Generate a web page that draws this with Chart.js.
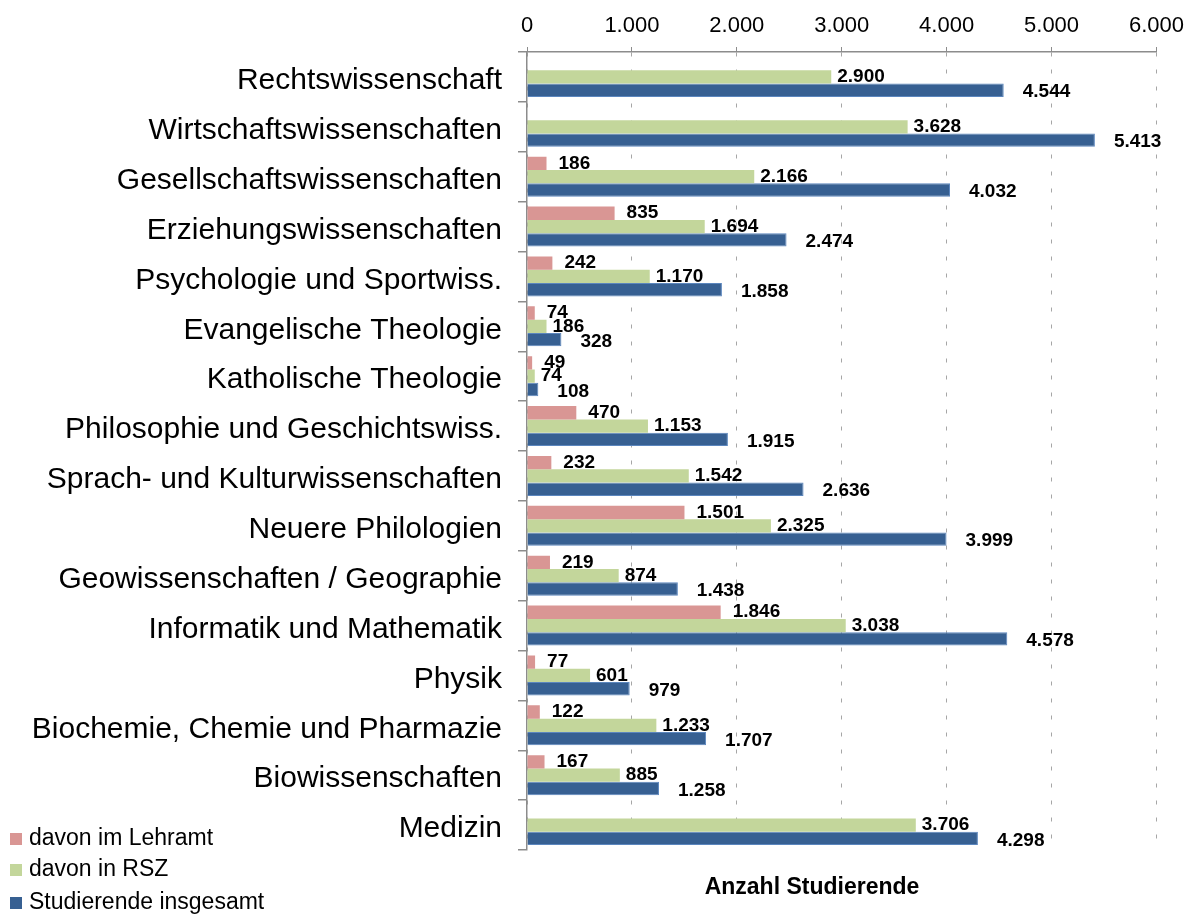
<!DOCTYPE html>
<html lang="de">
<head>
<meta charset="utf-8">
<title>Studierende nach Fachbereich</title>
<script src="https://cdn.jsdelivr.net/npm/chart.js@4"></script>
<style>
  html, body { margin: 0; padding: 0; background: #fff; }
  #wrap { width: 1192px; height: 916px; }
</style>
</head>
<body>
<div id="wrap"><canvas id="chart" width="1192" height="916"></canvas></div>
<script>
const categories = [
  "Rechtswissenschaft",
  "Wirtschaftswissenschaften",
  "Gesellschaftswissenschaften",
  "Erziehungswissenschaften",
  "Psychologie und Sportwiss.",
  "Evangelische Theologie",
  "Katholische Theologie",
  "Philosophie und Geschichtswiss.",
  "Sprach- und Kulturwissenschaften",
  "Neuere Philologien",
  "Geowissenschaften / Geographie",
  "Informatik und Mathematik",
  "Physik",
  "Biochemie, Chemie und Pharmazie",
  "Biowissenschaften",
  "Medizin"
];

// null = kein Wert im Original
const lehramt = [null, null, 186, 835, 242, 74, 49, 470, 232, 1501, 219, 1846, 77, 122, 167, null];
const rsz = [2900, 3628, 2166, 1694, 1170, 186, 74, 1153, 1542, 2325, 874, 3038, 601, 1233, 885, 3706];
const insgesamt = [4544, 5413, 4032, 2474, 1858, 328, 108, 1915, 2636, 3999, 1438, 4578, 979, 1707, 1258, 4298];

const xTicks = [0, 1000, 2000, 3000, 4000, 5000, 6000];

const fmt = v => v.toLocaleString("de-DE");

Chart.defaults.font.family = "'Liberation Sans', Arial, sans-serif";
Chart.defaults.color = "#000";

// Werte an den Balkenenden
const valueLabels = {
  id: "valueLabels",
  afterDatasetsDraw(chart) {
    const ctx = chart.ctx;
    const offsets = [12, 6, 19];
    const shiftY = [0, 0, 2];
    ctx.save();
    ctx.font = "bold 19px 'Liberation Sans', Arial, sans-serif";
    ctx.fillStyle = "#000";
    ctx.textAlign = "left";
    ctx.textBaseline = "middle";
    chart.data.datasets.forEach((ds, i) => {
      const meta = chart.getDatasetMeta(i);
      meta.data.forEach((bar, j) => {
        const v = ds.data[j];
        if (v === null) return;
        ctx.fillText(fmt(v), bar.x + offsets[i], bar.y + shiftY[i]);
      });
    });
    ctx.restore();
  }
};

// Legende unten links und Achsentitel
const extras = {
  id: "extras",
  afterDraw(chart) {
    const ctx = chart.ctx;
    const area = chart.chartArea;
    ctx.save();
    ctx.font = "23px 'Liberation Sans', Arial, sans-serif";
    ctx.textAlign = "left";
    ctx.textBaseline = "middle";
    const rows = [839, 870, 903];
    chart.data.datasets.forEach((ds, i) => {
      ctx.fillStyle = ds.backgroundColor;
      ctx.fillRect(10, rows[i] - 6, 12, 12);
      ctx.fillStyle = "#000";
      ctx.fillText(ds.label, 29, rows[i]);
    });
    ctx.font = "bold 23px 'Liberation Sans', Arial, sans-serif";
    ctx.textAlign = "center";
    ctx.fillText("Anzahl Studierende", area.left + 285, area.bottom + 38);
    ctx.restore();
  }
};

new Chart(document.getElementById("chart"), {
  type: "bar",
  data: {
    labels: categories,
    datasets: [
      {
        label: "davon im Lehramt",
        data: lehramt,
        backgroundColor: "#D99694",
        borderWidth: 0
      },
      {
        label: "davon in RSZ",
        data: rsz,
        backgroundColor: "#C3D69B",
        borderWidth: 0
      },
      {
        label: "Studierende insgesamt",
        data: insgesamt,
        backgroundColor: "#376092",
        borderColor: "#5B86BE",
        borderWidth: 1
      }
    ]
  },
  options: {
    indexAxis: "y",
    responsive: false,
    devicePixelRatio: 1,
    animation: false,
    categoryPercentage: 0.8,
    barPercentage: 1,
    layout: { padding: { top: 0, right: 35, bottom: 66, left: 0 } },
    plugins: {
      legend: { display: false },
      tooltip: { enabled: false }
    },
    scales: {
      x: {
        position: "top",
        min: 0,
        max: 6000,
        afterBuildTicks: scale => { scale.ticks = xTicks.map(v => ({ value: v })); },
        afterFit: scale => { scale.height = 52; },
        ticks: {
          callback: v => fmt(v),
          font: { size: 22 },
          padding: 8,
          color: "#000"
        },
        grid: {
          color: "#A6A6A6",
          tickColor: "#8C8C8C",
          tickLength: 5,
          lineWidth: 1
        },
        border: { color: "#8C8C8C", width: 1.5, dash: [4, 13] }
      },
      y: {
        afterFit: scale => { scale.width = 527; },
        ticks: {
          font: { size: 30 },
          padding: 16,
          labelOffset: 4,
          color: "#000"
        },
        grid: {
          offset: true,
          drawOnChartArea: false,
          color: "#8C8C8C",
          tickLength: 9,
          lineWidth: 1.5
        },
        border: { color: "#8C8C8C", width: 1.5 }
      }
    }
  },
  plugins: [valueLabels, extras]
});
</script>
</body>
</html>
